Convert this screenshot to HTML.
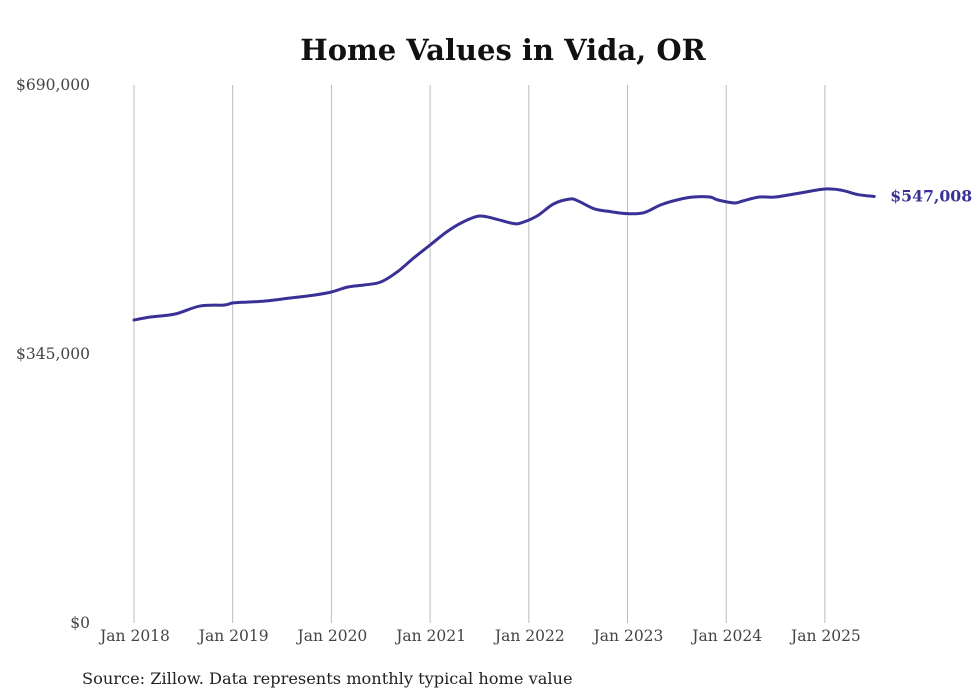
<!DOCTYPE html>
<html><head><meta charset="utf-8"><style>
body{margin:0;background:#fff;}
svg{display:block;}
</style></head><body>
<svg id="chart" width="980" height="699" xmlns="http://www.w3.org/2000/svg">
<text x="503" y="60" text-anchor="middle" font-family="'DejaVu Serif','Liberation Serif',serif" font-weight="bold" font-size="29" fill="#111">Home Values in Vida, OR</text>
<g id="grid"></g><g id="yticks"></g><g id="xticks"></g><g id="series"></g>
<text x="82" y="684" font-family="'DejaVu Serif','Liberation Serif',serif" font-size="16.2" fill="#222">Source: Zillow. Data represents monthly typical home value</text>
</svg>
<script>
const xLabels=["Jan 2018","Jan 2019","Jan 2020","Jan 2021","Jan 2022","Jan 2023","Jan 2024","Jan 2025"];
const yTicks=[0,345000,690000];
const yTickLabels=["$0","$345,000","$690,000"];
const months=[0,2,5,8,11,12,14,16,19,22,24,26,28,30,32,34,36,38,40,42,44,46,47,49,51,53,54,56,58,60,62,64,66,68,70,71,73,74,76,78,81,84,86,88,90];
const values=[388600,392400,396300,406500,407800,410400,411700,413000,416800,420700,424500,430900,433500,437300,450200,468100,484800,501500,514300,522000,518100,512600,513000,522000,537400,543800,541200,531000,527500,525000,526200,536100,542500,546300,546300,542500,538700,541200,546300,546300,551500,556600,555100,549500,547008];
const endLabel="$547,008";
const NS="http://www.w3.org/2000/svg";
const x=m=>134+m*(98.7/12);
const y=v=>623-v/690000*538;
function mk(tag,attrs,parent,text){const e=document.createElementNS(NS,tag);for(const k in attrs)e.setAttribute(k,attrs[k]);if(text!==undefined)e.textContent=text;document.getElementById(parent).appendChild(e);return e;}
xLabels.forEach((l,i)=>{
 const gx=x(i*12);
 const g=mk('line',{x1:gx,x2:gx,y1:85,y2:623,stroke:'#bbb','stroke-width':1},'grid');
 
 
 const t=mk('text',{x:gx+1,y:641,'text-anchor':'middle','font-family':"'DejaVu Serif','Liberation Serif',serif",'font-size':15.5,fill:'#444'},'xticks',l);
 
 
});
yTicks.forEach((v,i)=>{
 const t=mk('text',{x:90,y:y(v)+5,'text-anchor':'end','font-family':"'DejaVu Serif','Liberation Serif',serif",'font-size':15.5,fill:'#444'},'yticks',yTickLabels[i]);
 
 
});
const pts=months.map((m,i)=>[x(m),y(values[i])]);
let d='M'+pts[0][0]+','+pts[0][1];
for(let i=0;i<pts.length-1;i++){
 const p0=pts[Math.max(0,i-1)],p1=pts[i],p2=pts[i+1],p3=pts[Math.min(pts.length-1,i+2)];
 const c1x=p1[0]+(p2[0]-p0[0])/6,c1y=p1[1]+(p2[1]-p0[1])/6;
 const c2x=p2[0]-(p3[0]-p1[0])/6,c2y=p2[1]-(p3[1]-p1[1])/6;
 d+=` C${c1x},${c1y} ${c2x},${c2y} ${p2[0]},${p2[1]}`;
}
const path=mk('path',{d:d,fill:'none',stroke:'#3a3197','stroke-width':3,'stroke-linejoin':'round','stroke-linecap':'round'},'series');


const last=pts[pts.length-1];
const el=mk('text',{x:last[0]+16,y:last[1]+5,'font-family':"'DejaVu Serif','Liberation Serif',serif",'font-weight':'bold','font-size':15.7,fill:'#3a3197'},'series',endLabel);


</script>
</body></html>
